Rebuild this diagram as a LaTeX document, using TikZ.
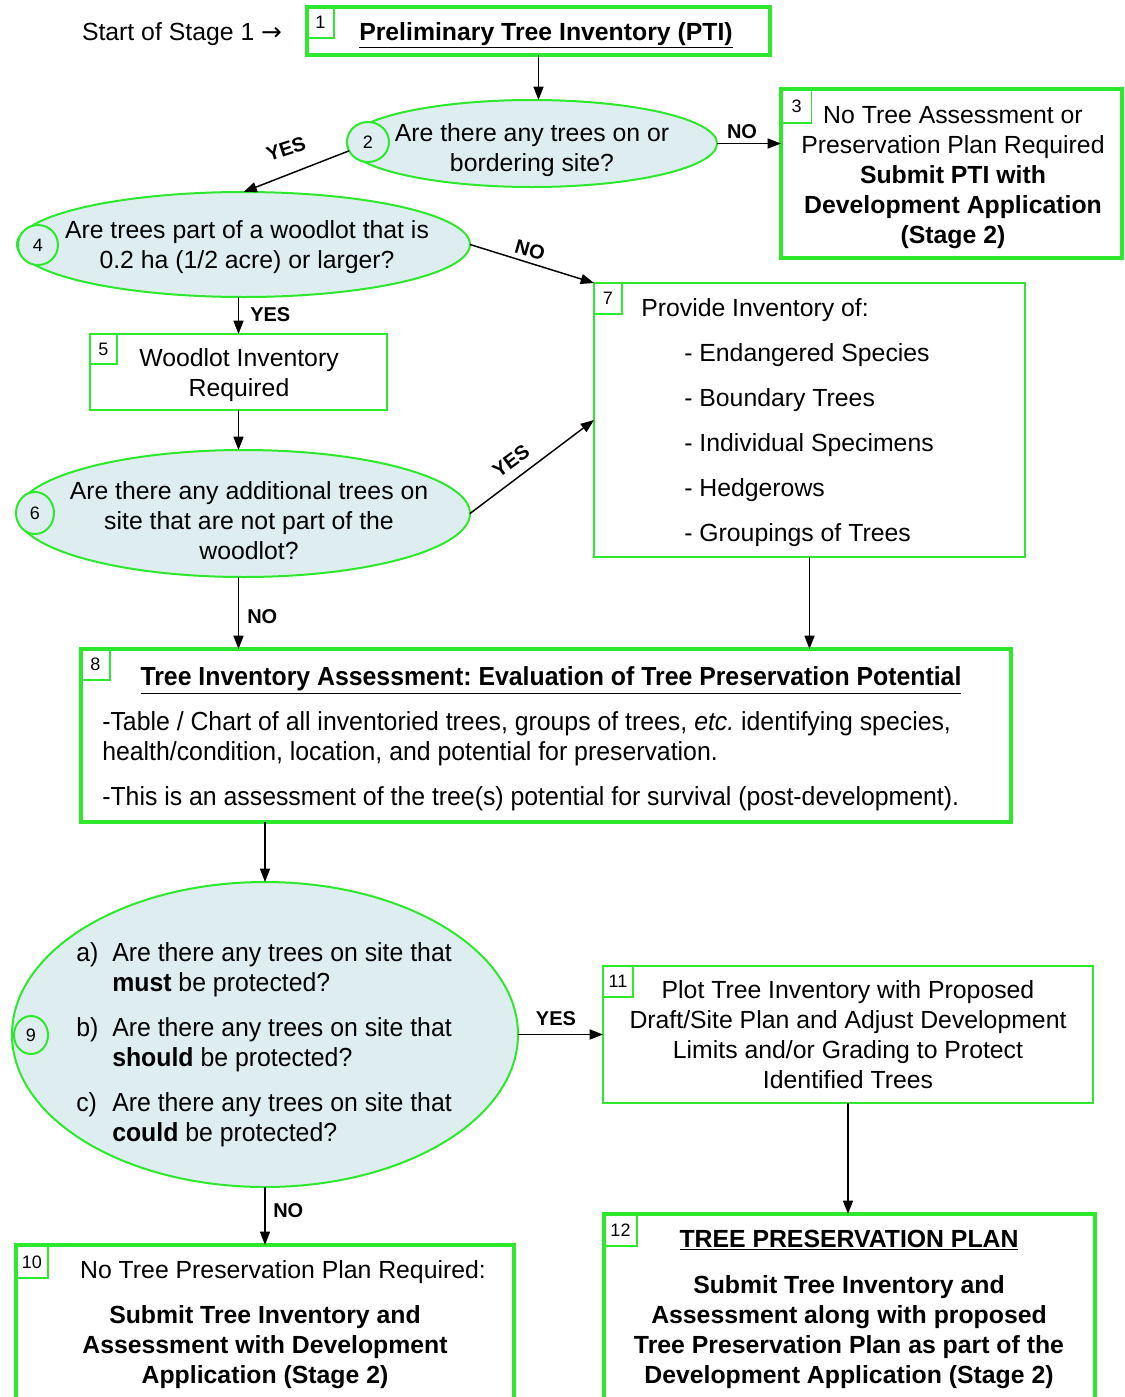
\documentclass[tikz,border=0pt]{standalone}
\usepackage{fontspec}
\setmainfont{Liberation Sans}
\newfontfamily\condfont[FakeStretch=0.95]{Liberation Sans}
\newfontfamily\symfont{DejaVu Sans}
\usetikzlibrary{shapes.geometric,arrows.meta}
\definecolor{boxgreen}{RGB}{45,232,45}
\definecolor{palefill}{RGB}{222,238,240}
\newcommand\fmain{\fontsize{18.6}{22.5}\selectfont}
\newcommand\fcond{\condfont\fontsize{19.6}{22.5}\selectfont}
\newcommand\fnum{\fontsize{13.5}{15}\selectfont}
\newcommand\flab{\bfseries\fontsize{15}{16}\selectfont}
\frenchspacing
\begin{document}
\begin{tikzpicture}[x=0.75pt,y=-0.75pt,
 sz/.style 2 args={minimum width=#1*0.75pt,minimum height=#2*0.75pt,inner sep=0pt,outer sep=0pt},
 heavybox/.style={draw=boxgreen,line width=3pt,rectangle},
 lightbox/.style={draw=boxgreen,line width=1.5pt,rectangle},
 decision/.style={draw=boxgreen,line width=1.5pt,ellipse,fill=palefill},
 numbox/.style={draw=boxgreen,line width=1.1pt,rectangle,font=\fnum},
 numcirc/.style={draw=boxgreen,line width=1.5pt,ellipse,fill=palefill,font=\fnum},
 txt/.style={inner sep=0pt,font=\fmain,align=center},
 lab/.style={inner sep=0pt,font=\flab},
 arr/.style={line width=1.1pt,-{Triangle[length=10pt,width=7.5pt]}}]
\fill[white] (0,0) rectangle (1125,1397);
\useasboundingbox (0,0) rectangle (1125,1397);

% Box 1
\node[heavybox,sz={463}{48}] (b1) at (538.5,31) {};
\node[numbox,sz={27}{31}] (n1) at (320.5,22.5) {1};
\node[txt,anchor=base,font=\fmain\bfseries] (t1) at (546,40) {\underline{Preliminary Tree Inventory (PTI)}};
\node[txt,anchor=base] (start) at (182,40) {Start of Stage 1 {\symfont →}};

% Ellipse 2
\node[decision,sz={370}{87}] (e2) at (532,143.5) {};
\node[numcirc,sz={42}{40}] (c2) at (368,142) {2};
\node[txt,anchor=base] (t2) at (532,171.5) {Are there any trees on or\\bordering site?};

% Box 3
\node[heavybox,sz={341}{169}] (b3) at (951.5,173.5) {};
\node[numbox,sz={30}{33}] (n3) at (796.5,106.5) {3};
\node[txt,anchor=base] (t3) at (953,243.5) {No Tree Assessment or\\Preservation Plan Required\\\textbf{Submit PTI with}\\\textbf{Development Application}\\\textbf{(Stage 2)}};

% Ellipse 4
\node[decision,sz={453}{105}] (e4) at (243.5,244.5) {};
\node[numcirc,sz={40}{40}] (c4) at (38,245) {4};
\node[txt,anchor=base] (t4) at (247,268.5) {Are trees part of a woodlot that is\\0.2 ha (1/2 acre) or larger?};

% Box 5
\node[lightbox,sz={297}{76}] (b5) at (238.5,372) {};
\node[numbox,sz={27}{30}] (n5) at (103.5,349) {5};
\node[txt,anchor=base] (t5) at (239,396.5) {Woodlot Inventory\\Required};

% Ellipse 6
\node[decision,sz={453}{127}] (e6) at (243.5,513.5) {};
\node[numcirc,sz={38}{42}] (c6) at (35,513) {6};
\node[txt,anchor=base] (t6) at (249,559.5) {Are there any additional trees on\\site that are not part of the\\woodlot?};

% Box 7
\node[lightbox,sz={431}{274}] (b7) at (809.5,420) {};
\node[numbox,sz={28}{31}] (n7) at (608,298.5) {7};
\node[txt,anchor=base west] (t7) at (641,316.5) {Provide Inventory of:};
\node[txt,anchor=base west,align=left,font=\fontsize{18.6}{33.75}\selectfont] (t7l) at (684,541.5) {- Endangered Species\\- Boundary Trees\\- Individual Specimens\\- Hedgerows\\- Groupings of Trees};

% Box 8
\node[heavybox,sz={930}{173}] (b8) at (546,735.5) {};
\node[numbox,sz={29}{31}] (n8) at (95.5,664.5) {8};
\node[txt,anchor=base,font=\fcond\bfseries] (t8) at (551,685.5) {\underline{Tree Inventory Assessment: Evaluation of Tree Preservation Potential}};
\node[txt,anchor=base west,align=left,font=\fcond] (t8a) at (102,760.5) {-Table / Chart of all inventoried trees, groups of trees, \textit{etc.} identifying species,\\health/condition, location, and potential for preservation.};
\node[txt,anchor=base west,align=left,font=\fcond] (t8b) at (102,805.5) {-This is an assessment of the tree(s) potential for survival (post-development).};

% Ellipse 9
\node[decision,sz={506}{305}] (e9) at (265,1034.5) {};
\node[numcirc,sz={34}{38}] (c9) at (31,1035) {9};
\node[txt,anchor=base west,font=\fcond] (qa) at (76,961.5) {a)};
\node[txt,anchor=base west,align=left,font=\fcond] (qat) at (112,991.5) {Are there any trees on site that\\\textbf{must} be protected?};
\node[txt,anchor=base west,font=\fcond] (qb) at (76,1036.5) {b)};
\node[txt,anchor=base west,align=left,font=\fcond] (qbt) at (112,1066.5) {Are there any trees on site that\\\textbf{should} be protected?};
\node[txt,anchor=base west,font=\fcond] (qc) at (76,1111.5) {c)};
\node[txt,anchor=base west,align=left,font=\fcond] (qct) at (112,1141.5) {Are there any trees on site that\\\textbf{could} be protected?};

% Box 11
\node[lightbox,sz={490}{137}] (b11) at (848,1034.5) {};
\node[numbox,sz={30}{31}] (n11) at (618,981.5) {11};
\node[txt,anchor=base] (t11) at (848,1088.5) {Plot Tree Inventory with Proposed\\Draft/Site Plan and Adjust Development\\Limits and/or Grading to Protect\\Identified Trees};

% Box 10
\node[heavybox,sz={498}{155}] (b10) at (265,1322.5) {};
\node[numbox,sz={32}{32}] (n10) at (32,1262) {10};
\node[txt,anchor=base] (t10) at (283,1278.5) {No Tree Preservation Plan Required:};
\node[txt,anchor=base,font=\fmain\bfseries] (t10b) at (265,1383.5) {Submit Tree Inventory and\\Assessment with Development\\Application (Stage 2)};

% Box 12
\node[heavybox,sz={491}{186}] (b12) at (849.5,1307) {};
\node[numbox,sz={33}{32}] (n12) at (620.5,1230) {12};
\node[txt,anchor=base,font=\fmain\bfseries] (t12) at (849,1247.5) {\underline{TREE PRESERVATION PLAN}};
\node[txt,anchor=base,font=\fmain\bfseries] (t12b) at (849,1383.5) {Submit Tree Inventory and\\Assessment along with proposed\\Tree Preservation Plan as part of the\\Development Application (Stage 2)};

% Labels
\node[lab] (lno2) at (742,132) {NO};
\node[lab,rotate=18] (lyes2) at (286,149) {YES};
\node[lab,rotate=-16] (lno4) at (530,250) {NO};
\node[lab,anchor=west] (lyes4) at (250,315) {YES};
\node[lab,rotate=36] (lyes6) at (511,461) {YES};
\node[lab,anchor=west] (lno6) at (247,617) {NO};
\node[lab] (lyes9) at (556,1019) {YES};
\node[lab,anchor=west] (lno9) at (273,1211) {NO};

% Connectors
\draw[arr] (b1.south) -- (b1.south |- e2.north);
\draw[arr] (e2.east) -- (e2.east -| b3.west);
\draw[arr] (c2.205) -- (e4.north);
\draw[arr] (e4.east) -- (b7.north west);
\draw[arr] (b5.north |- e4.south) -- (b5.north);
\draw[arr] (b5.south) -- (b5.south |- e6.north);
\draw[arr] (e6.east) -- (b7.west);
\draw[arr] (e6.south -| b5.south) -- (b8.north -| b5.south);
\draw[arr] (b7.south) -- (b7.south |- b8.north);
\draw[arr] (e9.north |- b8.south) -- (e9.north);
\draw[arr] (e9.east) -- (b11.west);
\draw[arr] (e9.south) -- (b10.north);
\draw[arr] (b11.south) -- (b11.south |- b12.north);
\end{tikzpicture}
\end{document}
